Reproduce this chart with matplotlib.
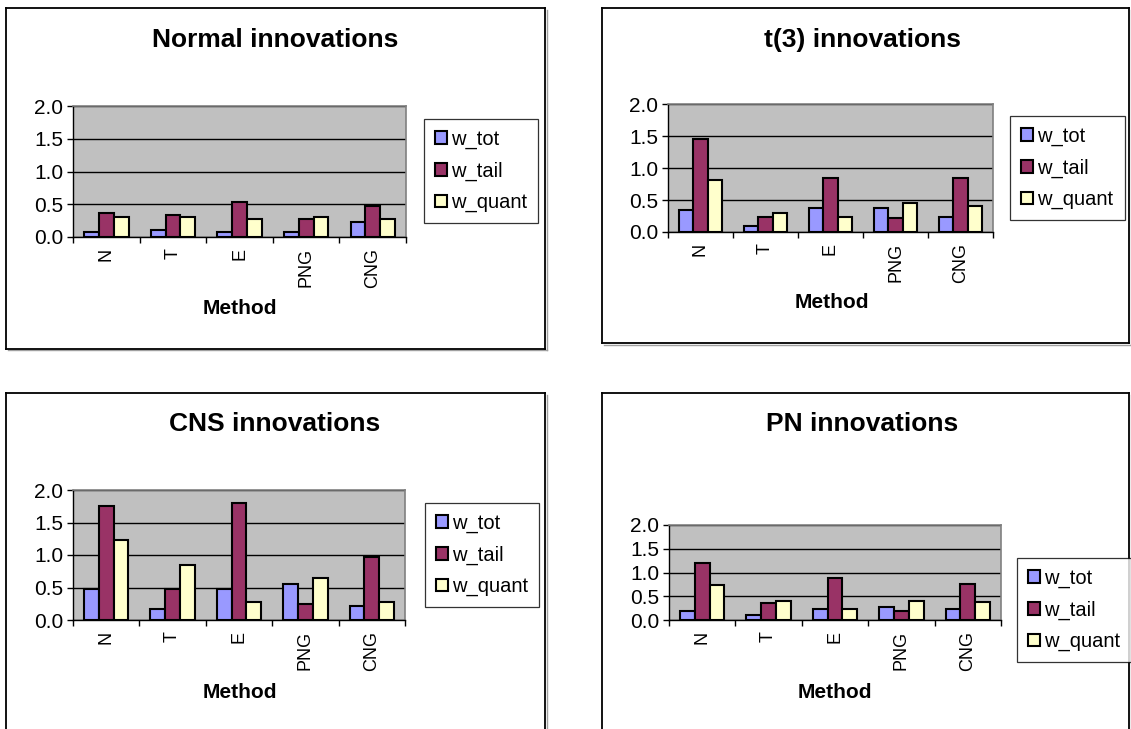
import matplotlib
matplotlib.use("Agg")
import matplotlib.pyplot as plt
from matplotlib.lines import Line2D
import numpy as np

plt.rcParams['font.family'] = ['Liberation Sans', 'DejaVu Sans']

methods = ["N", "T", "E", "PNG", "CNG"]
series_names = ["w_tot", "w_tail", "w_quant"]
series_colors = ["#9999FF", "#993366", "#FFFFCC"]
y_ticks = [0.0, 0.5, 1.0, 1.5, 2.0]

# values per panel: rows follow series_names, columns follow methods
normal_vals = [
    [0.07, 0.10, 0.07, 0.07, 0.23],
    [0.36, 0.34, 0.54, 0.28, 0.47],
    [0.31, 0.31, 0.28, 0.31, 0.28],
]
t3_vals = [
    [0.35, 0.09, 0.37, 0.37, 0.24],
    [1.46, 0.24, 0.85, 0.22, 0.85],
    [0.82, 0.30, 0.24, 0.46, 0.40],
]
cns_vals = [
    [0.48, 0.17, 0.48, 0.56, 0.22],
    [1.75, 0.48, 1.80, 0.25, 0.97],
    [1.23, 0.84, 0.27, 0.64, 0.27],
]
pn_vals = [
    [0.20, 0.10, 0.24, 0.28, 0.24],
    [1.19, 0.35, 0.88, 0.20, 0.76],
    [0.73, 0.41, 0.24, 0.41, 0.38],
]
panel_titles = ["Normal innovations", "t(3) innovations", "CNS innovations", "PN innovations"]
x_title = "Method"

W, H = 1131, 729
fig = plt.figure(figsize=(W / 100, H / 100), dpi=100)


def fx(px):
    return px / W


def fy(py):
    return 1 - py / H


def frame(x0, y0, x1, y1, sides="ltrb"):
    lw = 1.3
    pts = {"l": ([x0, x0], [y0, y1]), "r": ([x1, x1], [y0, y1]),
           "t": ([x0, x1], [y0, y0]), "b": ([x0, x1], [y1, y1])}
    # soft shadow on right/bottom
    if "r" in sides:
        fig.add_artist(Line2D([fx(x1 + 1.5)] * 2, [fy(y0 + 2), fy(y1 + 1.5)],
                              color="#a0a0a0", lw=1.0))
    if "b" in sides:
        fig.add_artist(Line2D([fx(x0 + 2), fx(x1 + 1.5)], [fy(y1 + 1.5)] * 2,
                              color="#a0a0a0", lw=1.0))
    for s in sides:
        xs, ys = pts[s]
        fig.add_artist(Line2D([fx(v) for v in xs], [fy(v) for v in ys],
                              color="black", lw=lw))


# panel layouts in pixel coordinates
panels = [
    dict(vals=normal_vals, title=panel_titles[0], box=(6, 8, 545, 349, "ltrb"),
         ax=(73, 106, 406, 237), title_xy=(275, 40), xlab_xy=(240, 309), leg=(481, 171)),
    dict(vals=t3_vals, title=panel_titles[1], box=(602, 8, 1129, 343, "ltrb"),
         ax=(668, 104, 993, 232), title_xy=(862, 40), xlab_xy=(832, 303), leg=(1067.5, 168)),
    dict(vals=cns_vals, title=panel_titles[2], box=(6, 393, 545, 740, "ltr"),
         ax=(73, 490, 405, 620), title_xy=(275, 424), xlab_xy=(240, 692), leg=(482, 555)),
    dict(vals=pn_vals, title=panel_titles[3], box=(602, 393, 1129, 740, "ltr"),
         ax=(669, 525, 1001, 620), title_xy=(862, 424), xlab_xy=(835, 692), leg=(1074, 610)),
]

bar_w = 1 / 4.5
x = np.arange(len(methods))

for p in panels:
    x0, y0, x1, y1, sides = p["box"]
    frame(x0, y0, x1, y1, sides)

    ax_l, ax_t, ax_r, ax_b = p["ax"]
    ax = fig.add_axes([fx(ax_l), fy(ax_b), fx(ax_r - ax_l), (ax_b - ax_t) / H])
    ax.set_facecolor("#C0C0C0")
    ax.set_axisbelow(True)

    handles = []
    for j, (name, col) in enumerate(zip(series_names, series_colors)):
        h = ax.bar(x + (j - 1) * bar_w, p["vals"][j], width=bar_w, color=col,
                   edgecolor="black", linewidth=1.5, label=name, zorder=3)
        handles.append(h)

    ax.set_xlim(-0.5, len(methods) - 0.5)
    ax.set_ylim(0, 2.0)
    ax.set_yticks(y_ticks)
    ax.set_yticklabels([f"{v:.1f}" for v in y_ticks], fontsize=15)
    ax.yaxis.grid(True, color="black", linewidth=1.0)
    ax.xaxis.grid(False)

    ax.set_xticks(np.arange(-0.5, len(methods)), minor=False)
    ax.set_xticklabels([])
    ax.set_xticks(x, minor=True)
    ax.set_xticklabels(methods, minor=True, rotation=90, fontsize=13, va="top")
    ax.tick_params(axis="x", which="minor", length=0, pad=8)
    ax.tick_params(axis="both", which="major", direction="out", length=4,
                   width=1.0, color="black")
    ax.tick_params(axis="y", pad=3)

    for s in ("top", "right"):
        ax.spines[s].set_color("#808080")
        ax.spines[s].set_linewidth(1.2)
    for s in ("left", "bottom"):
        ax.spines[s].set_color("black")
        ax.spines[s].set_linewidth(1.0)

    fig.text(fx(p["title_xy"][0]), fy(p["title_xy"][1]), p["title"],
             fontsize=19, fontweight="bold", ha="center", va="center")
    fig.text(fx(p["xlab_xy"][0]), fy(p["xlab_xy"][1]), x_title,
             fontsize=15, fontweight="bold", ha="center", va="center")

    leg = fig.legend(handles=handles, labels=series_names, loc="center",
                     bbox_to_anchor=(fx(p["leg"][0]), fy(p["leg"][1])),
                     fontsize=14.5, frameon=True, fancybox=False, shadow=False,
                     edgecolor="black", handlelength=0.6, handleheight=0.6,
                     handletextpad=0.2, labelspacing=0.62, borderpad=0.55,
                     borderaxespad=0)
    leg.get_frame().set_linewidth(0.9)

fig.savefig("out.png", dpi=100, facecolor="white")
